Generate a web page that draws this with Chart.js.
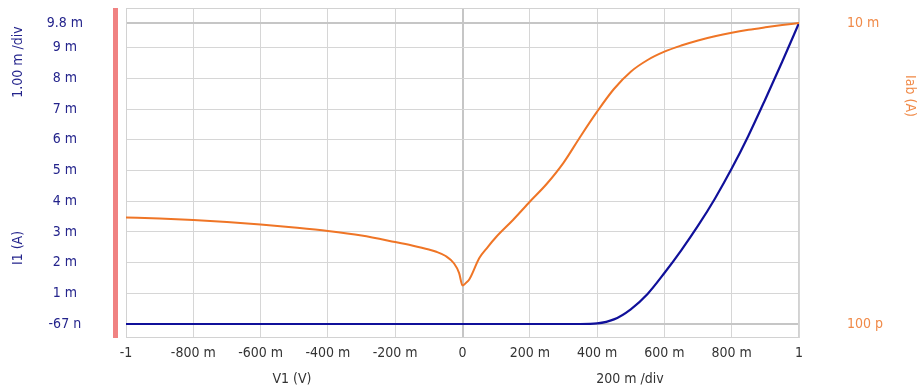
<!DOCTYPE html>
<html><head><meta charset="utf-8">
<script src="https://cdn.jsdelivr.net/npm/chart.js@4"></script>
<style>html,body{margin:0;padding:0;background:#fff;overflow:hidden}canvas{display:block}</style>
</head><body>
<canvas id="c" width="922" height="387"></canvas>
<script>
// Sweep voltage V1 (V)
const voltage = [-1,-0.9,-0.8,-0.7,-0.6,-0.5,-0.4,-0.3,-0.2,-0.15,-0.1,-0.08,-0.05,-0.025,-0.01,0,0.01,0.02,0.05,0.075,0.1,0.15,0.2,0.25,0.3,0.35,0.4,0.45,0.5,0.55,0.6,0.65,0.7,0.75,0.8,0.85,0.9,0.95,1];
// I1 (A), left linear axis
const i1 = [-67e-9,-67e-9,-67e-9,-67e-9,-67e-9,-67e-9,-67e-9,-67e-9,-67e-9,-67e-9,-67e-9,-67e-9,-67e-9,-67e-9,-67e-9,-67e-9,-67e-9,-67e-9,-67e-9,-67e-9,-67e-9,-67e-9,-67e-9,-67e-9,-67e-9,-67e-9,0.02e-3,0.15e-3,0.48e-3,0.98e-3,1.66e-3,2.40e-3,3.20e-3,4.08e-3,5.06e-3,6.14e-3,7.32e-3,8.54e-3,9.8e-3];
// Iab (A), right log axis
const iab = [6.78e-8,6.37e-8,5.81e-8,5.14e-8,4.41e-8,3.67e-8,2.97e-8,2.25e-8,1.51e-8,1.22e-8,9.55e-9,8.45e-9,6.41e-9,4.05e-9,2.26e-9,1.05e-9,1.23e-9,1.52e-9,5.67e-9,1.11e-8,2.05e-8,5.8e-8,1.78e-7,5.26e-7,1.92e-6,9.5e-6,4.4e-5,1.76e-4,5.08e-4,1.04e-3,1.73e-3,2.52e-3,3.44e-3,4.44e-3,5.5e-3,6.58e-3,7.66e-3,8.83e-3,1e-2];

const xTickValues = [-1,-0.8,-0.6,-0.4,-0.2,0,0.2,0.4,0.6,0.8,1];
const xTickLabels = ['-1','-800 m','-600 m','-400 m','-200 m','0','200 m','400 m','600 m','800 m','1'];
const leftTickValues = [-67e-9,1e-3,2e-3,3e-3,4e-3,5e-3,6e-3,7e-3,8e-3,9e-3,9.8e-3];
const leftTickLabels = ['-67 n','1 m','2 m','3 m','4 m','5 m','6 m','7 m','8 m','9 m','9.8 m'];
const rightTickValues = [1e-10,1e-2];
const rightTickLabels = ['100 p','10 m'];

const FONT = "'Liberation Sans Narrow','DejaVu Sans Condensed','Liberation Sans',sans-serif";
const NAVY = '#24248c';
const ORANGE_TXT = '#f08a48';

const decor = {
  id:'decor',
  beforeDatasetsDraw(chart){
    const {ctx, chartArea:a} = chart;
    ctx.save();
    ctx.strokeStyle = '#d2d2d2';
    ctx.lineWidth = 1;
    ctx.strokeRect(a.left+0.5, a.top+0.5, a.right-a.left-1, a.bottom-a.top-1);
    ctx.fillStyle = '#f08282';
    ctx.fillRect(a.left-13, a.top, 5, a.bottom-a.top);
    ctx.restore();
  },
  afterDraw(chart){
    const {ctx} = chart;
    ctx.save();
    ctx.font = "14px " + FONT;
    ctx.textAlign = 'center';
    ctx.textBaseline = 'middle';
    ctx.fillStyle = NAVY;
    ctx.save(); ctx.translate(18,62); ctx.rotate(-Math.PI/2); ctx.fillText('1.00 m /div',0,0); ctx.restore();
    ctx.save(); ctx.translate(18,248); ctx.rotate(-Math.PI/2); ctx.fillText('I1 (A)',0,0); ctx.restore();
    ctx.fillStyle = ORANGE_TXT;
    ctx.save(); ctx.translate(910,96); ctx.rotate(Math.PI/2); ctx.fillText('Iab (A)',0,0); ctx.restore();
    ctx.fillStyle = '#333';
    ctx.fillText('V1 (V)',292,379);
    ctx.fillText('200 m /div',630,379);
    ctx.restore();
  }
};

function noPadV(s){ s.paddingTop = 0; s.paddingBottom = 0; }

new Chart(document.getElementById('c'), {
  type:'line',
  data:{datasets:[
    {label:'Iab (A)', data: voltage.map((v,i)=>({x:v,y:iab[i]})), yAxisID:'yR', borderColor:'#ef7526', borderWidth:2, pointRadius:0, cubicInterpolationMode:'monotone', fill:false},
    {label:'I1 (A)', data: voltage.map((v,i)=>({x:v,y:i1[i]})), yAxisID:'yL', borderColor:'#10109a', borderWidth:2.2, pointRadius:0, cubicInterpolationMode:'monotone', fill:false}
  ]},
  options:{
    responsive:false, animation:false, devicePixelRatio:1,
    layout:{padding:{top:8,left:0,right:0,bottom:0}},
    plugins:{legend:{display:false}, tooltip:{enabled:false}},
    scales:{
      x:{type:'linear', min:-1, max:1,
        afterBuildTicks:s=>{s.ticks = xTickValues.map(v=>({value:v}));},
        afterFit:s=>{s.height=49; s.paddingLeft=0; s.paddingRight=0;},
        ticks:{callback:(v,i)=>xTickLabels[i], maxRotation:0, autoSkip:false, padding:7, color:'#333', font:{family:FONT,size:14}},
        grid:{drawTicks:false, color:c=>(c.tick && c.tick.value===0)?'#c6c6c6':'#d6d6d6', lineWidth:c=>(c.tick && c.tick.value===0)?2:1},
        border:{display:false}},
      yL:{type:'linear', position:'left', min:-0.456e-3, max:10.289e-3,
        afterBuildTicks:s=>{s.ticks = leftTickValues.map(v=>({value:v}));},
        afterFit:s=>{s.width=126; noPadV(s);},
        ticks:{callback:(v,i)=>leftTickLabels[i], autoSkip:false, crossAlign:'center', padding:43, color:NAVY, font:{family:FONT,size:14}},
        grid:{drawTicks:false, color:c=>(c.index===0||c.index===10)?'#c6c6c6':'#d6d6d6', lineWidth:c=>(c.index===0||c.index===10)?2:1},
        border:{display:false}},
      yR:{type:'logarithmic', position:'right', min:Math.pow(10,-10.372), max:Math.pow(10,-1.6013),
        afterBuildTicks:s=>{s.ticks = rightTickValues.map(v=>({value:v}));},
        afterFit:s=>{s.width=123; noPadV(s);},
        ticks:{callback:(v,i)=>rightTickLabels[i], autoSkip:false, crossAlign:'near', padding:40, color:ORANGE_TXT, font:{family:FONT,size:14}},
        grid:{display:false}, border:{display:false}}
    }
  },
  plugins:[decor]
});
</script>
</body></html>
